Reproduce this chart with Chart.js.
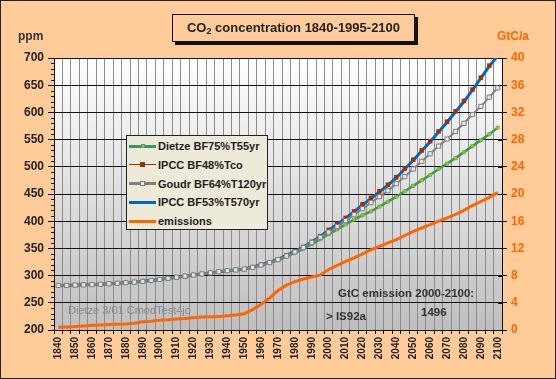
<!DOCTYPE html>
<html><head><meta charset="utf-8">
<script src="https://cdn.jsdelivr.net/npm/chart.js@4"></script>
<style>
html,body{margin:0;padding:0;background:#FFCC99;}
#wrap{position:relative;width:556px;height:379px;background:#FFCC99;font-family:"Liberation Sans",Arial,sans-serif;overflow:hidden;}
#c{position:absolute;left:0;top:0;}
.t{position:absolute;white-space:nowrap;font-weight:bold;line-height:1;}
#frame{position:absolute;left:0;top:0;width:556px;height:379px;box-sizing:border-box;border:1px solid #222;pointer-events:none;}
#title{position:absolute;left:172px;top:14px;width:243px;height:28px;box-sizing:border-box;border:1px solid #111;background:#FFCC99;box-shadow:3px 3px 0 #111;font-size:13px;font-weight:bold;color:#222;text-align:center;line-height:26px;}
#legend{position:absolute;left:126px;top:135px;width:142px;height:95px;box-sizing:border-box;border:1px solid #222;background:#EDEAD9;}
.li{position:absolute;left:2px;height:14px;font-size:11px;font-weight:bold;color:#222;}
.sw{position:absolute;left:0;top:6px;width:27px;}
.mk{position:absolute;}
.lt{position:absolute;left:29px;top:0;white-space:nowrap;line-height:14px;}
</style></head>
<body>
<div id="wrap">
<canvas id="c" width="556" height="379"></canvas>
<div id="title">CO<sub style="font-size:9px;vertical-align:-2px;line-height:0">2</sub> concentration 1840-1995-2100</div>
<div class="t" style="left:18px;top:30px;font-size:12px;color:#333;">ppm</div>
<div class="t" style="left:497px;top:30px;font-size:12px;color:#FF6600;">GtC/a</div>
<div class="t" style="left:68px;top:305px;font-size:11px;color:#888;font-weight:normal;">Dietze 3/01 CmodTest4jo</div>
<div class="t" style="left:338px;top:288px;font-size:11.5px;color:#333;">GtC emission 2000-2100:</div>
<div class="t" style="left:326px;top:311px;font-size:11.5px;color:#333;">&gt; IS92a</div>
<div class="t" style="left:421px;top:307px;font-size:11.5px;color:#333;">1496</div>
<div id="legend"></div>
<div id="frame"></div>
</div>
<script>
const years = ['1840','1845','1850','1855','1860','1865','1870','1875','1880','1885','1890','1895','1900','1905','1910','1915','1920','1925','1930','1935','1940','1945','1950','1955','1960','1965','1970','1975','1980','1985','1990','1995','2000','2005','2010','2015','2020','2025','2030','2035','2040','2045','2050','2055','2060','2065','2070','2075','2080','2085','2090','2095','2100'];

const dietze = [282,282,282.5,283,283.5,284,285,286,287,288,289.5,291,293,295,297,299,301,303,305,307,309,310.5,312,314.5,319,323,328.5,335,342,349,358,367,376,385,394,403,411,418,427,436,445,455,465,475,485,496,506,516,527,538,549,560,572];
const ipccTco = [282,282,282.5,283,283.5,284,285,286,287,288,289.5,291,293,295,297,299,301,303,305,307,309,310.5,312,315.5,320,324.5,330,337,344.5,352.5,362,372.5,384,395,406,418,431,443,455,467,481,497,513,530,547,565,583,602,621,642,664,686,710];
const goudr = [282,282,282.5,283,283.5,284,285,286,287,288,289.5,291,293,295,297,299,301,303,305,307,309,310.5,312,315,319.5,324,329.5,336,343.5,351.5,361,370.5,380,390,401,412,423,434,445,456,469,482,496,510,524,538,551,565,580,596,611,628,645];
const ipccT570 = [282,282,282.5,283,283.5,284,285,286,287,288,289.5,291,293,295,297,299,301,303,305,307,309,310.5,312,315.5,320,324.5,330,337,344.5,352.5,362,372,383.5,394.5,405.5,417.5,430,442,454,466,480,496,512,529,546,564,582,601,620,641,663,685,704];
const emissions = [0.4,0.45,0.5,0.6,0.7,0.75,0.8,0.85,0.9,1.0,1.2,1.3,1.45,1.5,1.6,1.7,1.8,1.9,1.95,2.0,2.1,2.2,2.4,3.0,3.8,4.7,5.8,6.6,7.1,7.5,7.8,8.1,8.9,9.5,10.1,10.6,11.2,11.8,12.3,12.8,13.3,13.9,14.5,15.0,15.5,16.0,16.5,17.0,17.6,18.3,18.9,19.5,20.2];

const ppmTicks = [200,250,300,350,400,450,500,550,600,650,700];
const gtcTicks = [0,4,8,12,16,20,24,28,32,36,40];

const legendItems = [
  {label:'Dietze BF75%T55yr', line:'#339966', lw:3, mk:{fill:'#99CC00',stroke:'#669966',size:4}},
  {label:'IPCC BF48%Tco', line:'#993300', lw:1.5, mk:{fill:'#993300',stroke:'#993300',size:5}},
  {label:'Goudr BF64%T120yr', line:'#808080', lw:3, mk:{fill:'#E6E6E6',stroke:'#808080',size:5}},
  {label:'IPCC BF53%T570yr', line:'#0066CC', lw:3, mk:null},
  {label:'emissions', line:'#FF6600', lw:3, mk:null}
];

const FONT = '"Liberation Sans", Arial, sans-serif';
Chart.defaults.font.family = FONT;

const bgPlugin = {
  id:'bg',
  beforeDraw(chart){
    const {ctx, chartArea:a} = chart;
    const g = ctx.createLinearGradient(0,a.top,0,a.bottom);
    g.addColorStop(0,'#FFFFFF');
    g.addColorStop(1,'#BFBFBF');
    ctx.save(); ctx.fillStyle=g; ctx.fillRect(a.left,a.top,a.right-a.left,a.bottom-a.top); ctx.restore();
  },
  afterDraw(chart){
    const {ctx, chartArea:a} = chart;
    const y = chart.scales.y, y1 = chart.scales.y1;
    ctx.save(); ctx.strokeStyle='#111'; ctx.lineWidth=1;
    for(let v=200; v<=700; v+=10){
      if(v%50===0) continue;
      const py = Math.round(y.getPixelForValue(v))+0.5;
      ctx.beginPath(); ctx.moveTo(a.left-3,py); ctx.lineTo(a.left,py); ctx.stroke();
    }
    gtcTicks.forEach(v=>{
      const py = Math.round(y1.getPixelForValue(v))+0.5;
      ctx.beginPath(); ctx.moveTo(a.right-4,py); ctx.lineTo(a.right,py); ctx.stroke();
    });
    ctx.restore();
  }
};

new Chart(document.getElementById('c'), {
  type:'line',
  data:{
    labels: years,
    datasets:[
      {label:'Dietze BF75%T55yr', data:dietze, yAxisID:'y', borderColor:'#339966', borderWidth:2.5, pointStyle:'rect', pointRadius:2.3, pointBackgroundColor:'#99CC00', pointBorderColor:'#669933', pointBorderWidth:0.5, order:3, tension:0},
      {label:'IPCC BF48%Tco', data:ipccTco, yAxisID:'y', borderColor:'#993300', borderWidth:1.5, showLine:false, pointStyle:'rect', pointRadius:3.2, pointBackgroundColor:'#993300', pointBorderColor:'#993300', pointBorderWidth:0, order:2, tension:0},
      {label:'Goudr BF64%T120yr', data:goudr, yAxisID:'y', borderColor:'#808080', borderWidth:2, pointStyle:'rect', pointRadius:3, pointBackgroundColor:'#E6E6E6', pointBorderColor:'#808080', pointBorderWidth:1, order:1, tension:0},
      {label:'IPCC BF53%T570yr', data:ipccT570, yAxisID:'y', borderColor:'#0066CC', borderWidth:3, pointRadius:0, order:4, tension:0},
      {label:'emissions', data:emissions, yAxisID:'y1', borderColor:'#FF6600', borderWidth:3, pointRadius:0, order:0, tension:0}
    ]
  },
  options:{
    responsive:false, animation:false,
    layout:{padding:{top:58,left:0,right:0,bottom:0}},
    plugins:{legend:{display:false}, title:{display:false}, tooltip:{enabled:false}},
    scales:{
      x:{
        type:'category', offset:true,
        grid:{offset:true, color:'#8C8C8C', lineWidth:1, tickColor:'#111', tickLength:4, drawTicks:true},
        border:{color:'#111', width:1},
        ticks:{autoSkip:false, maxRotation:90, minRotation:90, padding:3, color:'#222',
          font:{size:10, weight:'bold', family:FONT},
          callback:function(v,i){ return i%2===0 ? this.getLabelForValue(v) : ''; }},
        afterFit(s){ s.height = 49; }
      },
      y:{
        position:'left', min:200, max:700,
        afterBuildTicks(s){ s.ticks = ppmTicks.map(v=>({value:v})); },
        grid:{color:'#111', lineWidth:1, tickColor:'#111', tickLength:6},
        border:{color:'#111', width:1},
        ticks:{padding:4, color:'#222', font:{size:12, weight:'bold', family:FONT}},
        afterFit(s){ s.width = 54; }
      },
      y1:{
        position:'right', min:0, max:40,
        afterBuildTicks(s){ s.ticks = gtcTicks.map(v=>({value:v})); },
        grid:{drawOnChartArea:false, tickColor:'#111', tickLength:5},
        border:{color:'#111', width:1},
        ticks:{padding:4, color:'#FF6600', font:{size:12, weight:'bold', family:FONT}},
        afterFit(s){ s.width = 54; }
      }
    }
  },
  plugins:[bgPlugin]
});

const lg = document.getElementById('legend');
legendItems.forEach((it,i)=>{
  const d = document.createElement('div');
  d.className='li';
  d.style.top = (3 + i*18.75) + 'px';
  const sw = document.createElement('div');
  sw.className='sw';
  sw.style.borderTop = it.lw+'px solid '+it.line;
  sw.style.top = (7 - it.lw/2)+'px';
  d.appendChild(sw);
  if(it.mk){
    const m = document.createElement('div');
    m.className='mk';
    m.style.width = m.style.height = (it.mk.size-2)+'px';
    m.style.background = it.mk.fill;
    m.style.border = '1px solid '+it.mk.stroke;
    m.style.left = (13.5 - it.mk.size/2)+'px';
    m.style.top = (7 - it.mk.size/2)+'px';
    d.appendChild(m);
  }
  const t = document.createElement('div');
  t.className='lt'; t.textContent = it.label;
  d.appendChild(t);
  lg.appendChild(d);
});
</script>
</body></html>
